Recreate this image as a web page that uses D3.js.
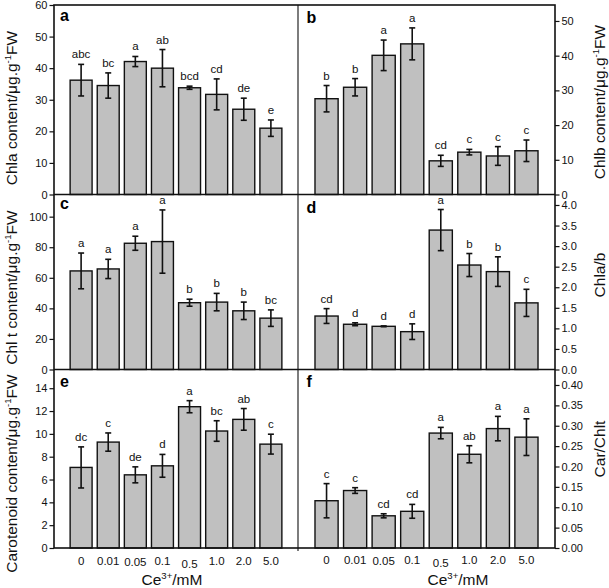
<!DOCTYPE html>
<html><head><meta charset="utf-8">
<script src="https://cdn.jsdelivr.net/npm/d3@7"></script>
<style>body{margin:0;background:#fff} svg{display:block;font-family:"Liberation Sans",Arial,sans-serif}</style>
</head><body><svg id="chart" width="609" height="588"></svg>
<script>
const categories = ["0","0.01","0.05","0.1","0.5","1.0","2.0","5.0"];

const chlaValues  = [36.2,34.5,42.1,40.0,33.8,31.7,27.0,21.0];
const chlaErrors  = [5.0,4.0,1.6,5.9,0.5,4.9,3.5,2.6];
const chlaLetters = ["abc","bc","a","ab","bcd","cd","de","e"];
const chlaTicks   = [0,10,20,30,40,50,60];

const chlbValues  = [27.6,30.9,40.1,43.4,9.7,12.2,11.1,12.6];
const chlbErrors  = [3.8,2.5,4.4,4.6,1.6,0.8,2.7,3.1];
const chlbLetters = ["b","b","a","a","cd","c","c","c"];
const chlbTicks   = [0,10,20,30,40,50];

const chltValues  = [64.5,65.8,82.6,83.7,43.7,44.1,38.4,33.6];
const chltErrors  = [11.7,6.3,4.6,20.7,2.3,5.7,5.7,5.4];
const chltLetters = ["a","a","a","a","b","b","b","bc"];
const chltTicks   = [0,20,40,60,80,100];

const ratioValues  = [1.30,1.10,1.05,0.92,3.39,2.54,2.38,1.62];
const ratioErrors  = [0.18,0.035,0.01,0.19,0.50,0.28,0.36,0.33];
const ratioLetters = ["cd","d","d","d","a","b","b","c"];
const ratioTicks   = [0,0.5,1.0,1.5,2.0,2.5,3.0,3.5,4.0];

const carValues  = [7.06,9.28,6.41,7.20,12.38,10.25,11.27,9.10];
const carErrors  = [1.8,0.8,0.7,1.0,0.53,0.9,0.95,0.87];
const carLetters = ["dc","c","de","d","a","bc","ab","c"];
const carTicks   = [0,2,4,6,8,10,12,14];

const carChlValues  = [0.116,0.141,0.079,0.090,0.282,0.230,0.293,0.272];
const carChlErrors  = [0.042,0.007,0.005,0.017,0.014,0.021,0.030,0.045];
const carChlLetters = ["c","c","cd","cd","a","ab","a","a"];
const carChlTicks   = [0,0.05,0.10,0.15,0.20,0.25,0.30,0.35,0.40];

const panelLetters = ["a","b","c","d","e","f"];
const yTitles = [
  {main:"Chla content/μg.g", sup:"-1", tail:"FW"},
  {main:"Chlb content/μg.g", sup:"-1", tail:"FW"},
  {main:"Chl t content/μg.g", sup:"-1", tail:"FW"},
  {main:"Chla/b"},
  {main:"Carotenoid content/μg.g", sup:"-1", tail:"FW"},
  {main:"Car/Chlt"}
];
const xTitle = {main:"Ce", sup:"3+", tail:"/mM"};

// ---------- layout ----------
const colX = [[54,298],[298,555]];
const rowY = [5,194.5,369.5,548];
const yMax = [60,54.6,114.5,4.255,15.64,0.438];
const tickFmt = [d3.format("d"),d3.format("d"),d3.format("d"),d3.format(".1f"),d3.format("d"),d3.format(".2f")];
const letterBase = [16,18,14.5,18.5,17.5,17.5];
const yTitleCenter = [108,102,287.5,275,473.5,449];

const panels = [
  {v:chlaValues,e:chlaErrors,l:chlaLetters,t:chlaTicks},
  {v:chlbValues,e:chlbErrors,l:chlbLetters,t:chlbTicks},
  {v:chltValues,e:chltErrors,l:chltLetters,t:chltTicks},
  {v:ratioValues,e:ratioErrors,l:ratioLetters,t:ratioTicks},
  {v:carValues,e:carErrors,l:carLetters,t:carTicks},
  {v:carChlValues,e:carChlErrors,l:carChlLetters,t:carChlTicks}
];

const svg = d3.select("#chart");

function addTitle(sel, t){
  sel.append("tspan").text(t.main);
  if(t.sup){
    sel.append("tspan").attr("font-size","0.62em").attr("dy","-0.62em").text(t.sup);
    sel.append("tspan").attr("dy","0.385em").text(t.tail);
  }
}

panels.forEach((p,i)=>{
  const col = i%2, row = Math.floor(i/2);
  const [x0,x1] = colX[col];
  const y0 = rowY[row], y1 = rowY[row+1];
  const x = d3.scaleBand().domain(categories).range([x0,x1]).paddingInner(0.19).paddingOuter(0.595);
  const y = d3.scaleLinear().domain([0,yMax[i]]).range([y1,y0]);
  const g = svg.append("g");

  // bars
  g.selectAll("rect.bar").data(p.v).enter().append("rect")
    .attr("x",(d,k)=>x(categories[k]))
    .attr("y",d=>y(d))
    .attr("width",x.bandwidth())
    .attr("height",d=>y(0)-y(d))
    .attr("fill","#c0c0c0").attr("stroke","#111").attr("stroke-width",1.4);

  // error bars
  const cx = k=>x(categories[k])+x.bandwidth()/2;
  const eg = g.append("g").attr("stroke","#111").attr("stroke-width",1.6);
  p.v.forEach((d,k)=>{
    const hi = y(d+p.e[k]), lo = y(d-p.e[k]);
    eg.append("line").attr("x1",cx(k)).attr("x2",cx(k)).attr("y1",hi).attr("y2",lo);
    eg.append("line").attr("x1",cx(k)-3).attr("x2",cx(k)+3).attr("y1",hi).attr("y2",hi);
    eg.append("line").attr("x1",cx(k)-3).attr("x2",cx(k)+3).attr("y1",lo).attr("y2",lo);
  });

  // significance letters
  g.selectAll("text.sig").data(p.l).enter().append("text")
    .attr("x",(d,k)=>cx(k))
    .attr("y",(d,k)=>y(p.v[k]+p.e[k])-6)
    .attr("text-anchor","middle").attr("font-size",11.5).attr("fill","#111")
    .text(d=>d);

  // y axis
  const axis = (col===0? d3.axisLeft(y) : d3.axisRight(y))
    .tickValues(p.t).tickFormat(tickFmt[i]).tickSize(4.5).tickSizeOuter(0).tickPadding(2);
  const ag = g.append("g").attr("transform",`translate(${col===0?x0:x1},0)`).call(axis);
  ag.select(".domain").remove();
  ag.selectAll(".tick line").attr("stroke","#111").attr("stroke-width",1.2);
  ag.selectAll(".tick text").attr("font-size",11).attr("fill","#111")
    .attr("font-family","'Liberation Sans',Arial,sans-serif");

  // panel letter
  g.append("text").attr("x",col===0?x0+6:x0+8.5).attr("y",y0+letterBase[i])
    .attr("font-size",16).attr("font-weight","bold").attr("fill","#000").text(panelLetters[i]);

  // y title
  const tx = col===0? 17 : 605;
  const tt = g.append("text").attr("transform",`translate(${tx},${yTitleCenter[i]}) rotate(-90)`)
    .attr("text-anchor","middle").attr("font-size",15.5).attr("fill","#111");
  addTitle(tt, yTitles[i]);

  // x tick labels for bottom row
  if(row===2){
    const shift = {"0.05":1,"0.5":2.5};
    g.selectAll("text.xl").data(categories).enter().append("text")
      .attr("x",d=>x(d)+x.bandwidth()/2)
      .attr("y",d=>(col===0?565:564)+(shift[d]||0))
      .attr("text-anchor","middle").attr("font-size",11.5).attr("fill","#111").text(d=>d);
    const xt = g.append("text").attr("x",col===0?172:458).attr("y",585)
      .attr("text-anchor","middle").attr("font-size",15.5).attr("fill","#111");
    addTitle(xt, xTitle);
  }
});

// frame
const fr = svg.append("g").attr("stroke","#111").attr("fill","none");
fr.append("rect").attr("x",colX[0][0]).attr("y",rowY[0]).attr("width",colX[1][1]-colX[0][0]).attr("height",rowY[3]-rowY[0]).attr("stroke-width",1.6);
fr.append("line").attr("x1",colX[0][1]).attr("x2",colX[0][1]).attr("y1",rowY[0]).attr("y2",rowY[3]+3).attr("stroke-width",1.1);
[rowY[1],rowY[2]].forEach(v=>fr.append("line").attr("x1",colX[0][0]).attr("x2",colX[1][1]).attr("y1",v).attr("y2",v).attr("stroke-width",1.6));
</script></body></html>
